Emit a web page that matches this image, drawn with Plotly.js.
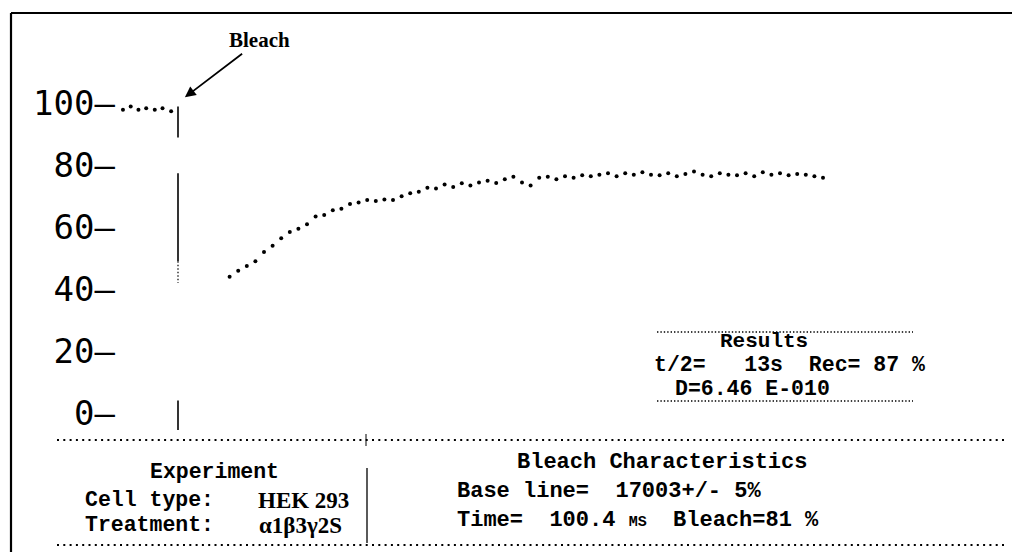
<!DOCTYPE html>
<html>
<head>
<meta charset="utf-8">
<script src="https://cdn.plot.ly/plotly-3.0.1.min.js"></script>
<style>html,body{margin:0;padding:0;background:#fff;}#chart{width:1015px;height:552px;}</style>
</head>
<body>
<div id="chart"></div>
<script>
// ---- data (time in s, fluorescence in % of pre-bleach) ----
const preTime  = [-6.4, -5.5, -4.6, -3.7, -2.7, -1.8, -0.8];
const preValue = [98, 99, 98, 98.5, 98, 98.5, 97.5];

const recTime = [6,7,8,9,10,11,12,13,14,15,16,17,18,19,20,21,22,23,24,25,26,27,28,29,30,
  31,32,33,34,35,36,37,38,39,40,41,42,43,44,45,46,47,48,49,50,51,52,53,54,55,56,57,58,59,60,
  61,62,63,64,65,66,67,68,69,70,71,72,73,74,75];
const recValue = [44,46,47.5,49,52,54,56.5,58.5,59.5,61,63.5,64,65.5,66,67.5,68,68.8,68.5,69,68.8,
  70,71,71.5,72.8,72.5,73.8,73,74.2,73.5,74.5,75,74.3,75.5,76.3,74.5,73.5,76,76.3,75.5,76.5,
  76,76.8,76.5,77,77.5,76.5,77.5,77,77.8,77,76.8,77.5,76.5,77.2,78,77,76.5,77.5,77,76.8,
  77.5,76.5,77.8,77,77.5,76.8,77.2,77,76.5,76];

const bleachTime = 0;
const bleachMarkY = [99, 89, null, 77.5, 49, null, 4, -5.5];
const bleachMarkDotY = [49, 42];

const yTickVals = [0, 20, 40, 60, 80, 100];
const yTickText = ['0\u2013', '20\u2013', '40\u2013', '60\u2013', '80\u2013', '100\u2013'];

// ---- layout helpers (pixel -> paper) ----
const W = 1015, H = 552;
const M = {l: 116, r: 0, t: 13, b: 0};
const PW = W - M.l - M.r, PH = H - M.t - M.b;
const px = v => (v - M.l) / PW;
const py = v => (H - M.b - v) / PH;
const nb = s => s.replace(/ /g, '\u00A0');

const mono = 'Liberation Mono, Courier New, monospace';
const serif = 'Liberation Serif, Times New Roman, serif';

const traces = [
  {x: preTime, y: preValue, mode: 'markers', type: 'scatter',
   marker: {color: '#000', size: 4}, hoverinfo: 'skip'},
  {x: recTime, y: recValue, mode: 'markers', type: 'scatter',
   marker: {color: '#000', size: 4}, hoverinfo: 'skip'},
  {x: bleachMarkY.map(v => v === null ? null : bleachTime), y: bleachMarkY,
   mode: 'lines', type: 'scatter', line: {color: '#000', width: 1.6},
   connectgaps: false, hoverinfo: 'skip'},
  {x: bleachMarkDotY.map(() => bleachTime), y: bleachMarkDotY,
   mode: 'lines', type: 'scatter', line: {color: '#000', width: 1.2, dash: '1.5px,2px'},
   hoverinfo: 'skip'}
];

const line = (x0, y0, x1, y1, w, dash) => ({type: 'line', xref: 'paper', yref: 'paper',
  x0: px(x0), y0: py(y0), x1: px(x1), y1: py(y1),
  line: {color: '#000', width: w, dash: dash || 'solid'}});

const shapes = [
  line(11, 13, 1012, 13, 2.2),
  line(11, 13, 11, 552, 2.2),
  line(57, 440, 1004, 440, 2.2, '2px,4.3px'),
  line(57, 545, 1004, 545, 2.2, '2px,4.3px'),
  line(367, 468, 367, 543, 1.3),
  line(366, 434, 366, 446, 1),
  line(657, 332, 913, 332, 1.5, '1.4px,2px'),
  line(657, 401, 913, 401, 1.5, '1.4px,2px')
];

const txt = (t, x, y, size, anchor, family, extra) => Object.assign({
  text: t, xref: 'paper', yref: 'paper', x: px(x), y: py(y),
  xanchor: anchor || 'left', yanchor: 'middle', showarrow: false,
  font: {family: family || mono, size: size, color: '#000', weight: 'bold'}}, extra || {});

const annotations = [
  {text: '<b>Bleach</b>', xref: 'x', yref: 'y', x: bleachTime + 0.8, y: 102,
   ax: 75, ay: -57, showarrow: true, arrowhead: 2, arrowsize: 1.2, arrowwidth: 1.8,
   arrowcolor: '#000', font: {family: serif, size: 21, color: '#000'}},
  txt('Results', 764, 341, 21, 'center'),
  txt(nb('t/2=   13s  Rec= 87 %'), 652, 365, 21.5, 'left'),
  txt(nb('D=6.46 E-010'), 673, 389, 21.5, 'left'),
  txt('Experiment', 214, 472, 21.5, 'center'),
  txt(nb('Cell type:'), 83, 500, 21.5, 'left'),
  txt(nb('Treatment:'), 83, 525, 21.5, 'left'),
  txt('<b>HEK 293</b>', 256, 500, 23, 'left', serif),
  txt('\u03b11\u03b23\u03b32S', 257, 525, 23, 'left', serif),
  txt('Bleach Characteristics', 662, 462, 22, 'center'),
  txt(nb('Base line=  17003+/- 5%'), 455, 491, 22, 'left'),
  txt(nb('Time=  100.4 ') + '<span style="font-size:15px">MS</span>' + nb('  Bleach=81 %'), 455, 520, 22, 'left')
];

const layout = {
  width: W, height: H, margin: M, showlegend: false,
  paper_bgcolor: '#fff', plot_bgcolor: '#fff',
  xaxis: {range: [(M.l - 178) / 8.6, (W - M.r - 178) / 8.6], visible: false, fixedrange: true},
  yaxis: {range: [(413 - (H - M.b)) / 3.095, (413 - M.t) / 3.095],
    tickvals: yTickVals, ticktext: yTickText, ticks: '', showgrid: false, zeroline: false,
    showline: false, ticklabelstandoff: 0,
    tickfont: {family: 'DejaVu Sans Mono, monospace', size: 34, color: '#000'}},
  shapes: shapes, annotations: annotations
};

Plotly.newPlot('chart', traces, layout, {staticPlot: true, displayModeBar: false});
</script>
</body>
</html>
